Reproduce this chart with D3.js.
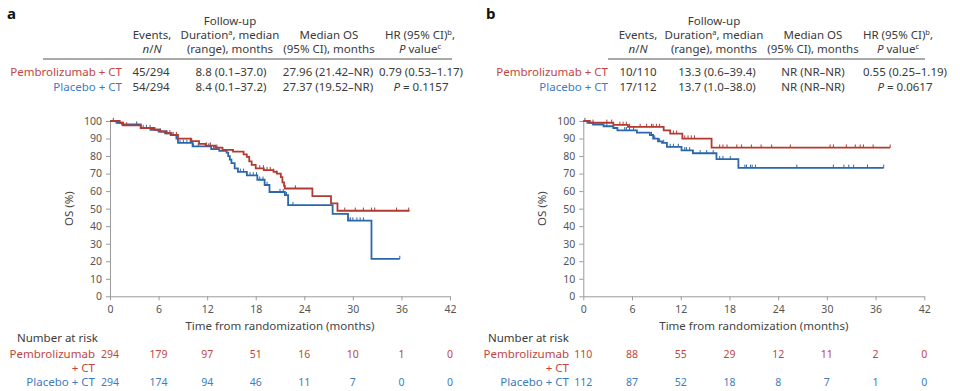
<!DOCTYPE html>
<html>
<head>
<meta charset="utf-8">
<script src="https://cdn.jsdelivr.net/npm/d3@7"></script>
<style>
  body { margin: 0; background: #fff; }
  svg text { font-family: "Noto Sans", sans-serif; }
</style>
</head>
<body>
<div id="chart"></div>
<script>
// ---- data ----
const monthTicks = [0, 6, 12, 18, 24, 30, 36, 42];
const osTicks = [0, 10, 20, 30, 40, 50, 60, 70, 80, 90, 100];

// panel a: [month, OS %] at each step
const aPembroSteps = [[0,100],[1.2,99],[1.6,97.5],[3.8,96],[5.5,95],[6.2,94],[7,93],[7.6,92],[8.4,90],[10,88.5],[11,87],[11.8,86],[13,84.8],[13.9,83.5],[15.2,82.5],[16.5,81],[16.9,79.5],[17.2,77],[17.5,75],[18,73],[19,72],[20.2,71],[20.6,70],[21.1,68],[21.3,65],[21.5,63],[21.6,61.5],[25.0,57.1],[27.3,53],[28.1,48.8]];
const aPembroEnd = 37.0;
const aPembroCensor = [1.65,2.06,4.1,4.95,7.4,8.2,10.1,11.9,12.4,13.2,18.5,18.95,19.4,19.8,20.2,20.6,22.9,29.0,30.3,31.3,32.3,32.7,35.4,36.9];
const aPlaceboSteps = [[0,100],[0.8,99],[1.5,98],[3.8,96],[5,95],[6,94],[6.8,93],[7.5,92],[8.2,90],[8.4,87.5],[10.2,85.5],[12.5,84],[13.5,83],[14.4,82],[14.6,80],[14.8,78],[15,76],[15.4,73],[15.8,71],[16.9,69],[18.2,66.5],[19.1,63.5],[19.7,59.5],[21.6,57.7],[22.0,52],[27.5,47],[29.4,43.2],[32.3,21.3]];
const aPlaceboEnd = 35.8;
const aPlaceboCensor = [0.41,3.3,4.5,6.2,7.0,7.8,8.65,9.06,9.5,9.9,10.3,10.9,12.2,12.8,13.2,16.1,16.5,16.9,17.3,17.7,18.1,18.5,18.9,19.4,21.0,21.4,21.8,22.6,29.5,29.7,30.0,30.5,30.9,31.3,35.8];
const aRiskPembro = [294, 179, 97, 51, 16, 10, 1, 0];
const aRiskPlacebo = [294, 174, 94, 46, 11, 7, 0, 0];

// panel b
const bPembroSteps = [[0,100],[0.8,99],[3.7,97.8],[5.5,96.6],[9.9,94.7],[10.7,92.8],[12.2,90],[15.8,84.8]];
const bPembroEnd = 37.8;
const bPembroCensor = [1.2,2.9,3.5,4.5,4.9,5.3,5.7,7.0,7.8,8.4,8.6,9.0,9.4,11.1,11.5,12.5,12.9,13.3,13.7,16.8,17.2,17.7,18.9,19.5,20.7,21.9,23.2,25.5,30.4,30.8,32.4,33.5,34.1,34.5,35.7,37.8];
const bPlaceboSteps = [[0,100],[0.5,99],[1.2,98],[2.5,97],[3.7,96],[4.2,94.7],[6.6,93.4],[8.2,92],[8.6,90],[9.2,88.4],[9.7,87.5],[10.3,85.2],[12.1,83.3],[13.5,81.6],[16.4,78.2],[19.1,73.3]];
const bPlaceboEnd = 37.0;
const bPlaceboCensor = [0.2,2.9,5.1,5.3,5.7,6.2,8.4,8.8,9.4,9.9,10.7,11.1,11.7,12.5,12.7,13.1,13.5,14.4,15.2,16.0,16.8,17.2,18.1,19.9,20.1,20.6,20.8,21.2,26.3,30.8,32.1,32.7,33.3,35.0,37.0];
const bRiskPembro = [110, 88, 55, 29, 12, 11, 2, 0];
const bRiskPlacebo = [112, 87, 52, 18, 8, 7, 1, 0];

// header table (segments: [text, style]; style i = italic, s = superscript)
const headerCols = [
  [[], [['Events,']], [['n','i'],['/'],['N','i']]],
  [[['Follow-up']], [['Duration'],['a','s'],[', median']], [['(range), months']]],
  [[], [['Median OS']], [['(95% CI), months']]],
  [[], [['HR (95% CI)'],['b','s'],[',']], [['P','i'],[' value'],['c','s']]]
];
const groupNames = ['Pembrolizumab + CT', 'Placebo + CT'];
const aRowPembro = ['45/294', '8.8 (0.1–37.0)', '27.96 (21.42–NR)', '0.79 (0.53–1.17)'];
const aRowPlacebo = ['54/294', '8.4 (0.1–37.2)', '27.37 (19.52–NR)', '= 0.1157'];
const bRowPembro = ['10/110', '13.3 (0.6–39.4)', 'NR (NR–NR)', '0.55 (0.25–1.19)'];
const bRowPlacebo = ['17/112', '13.7 (1.0–38.0)', 'NR (NR–NR)', '= 0.0617'];

// ---- drawing ----
const RED_LINE = '#b33a31', BLUE_LINE = '#2b67ab';
const RED_TEXT = '#c0463f', BLUE_TEXT = '#3c7cbf';
const FS = 11.5;

const svg = d3.select('#chart').append('svg')
  .attr('width', 960).attr('height', 391);

function addRich(text, segs) {
  let shifted = false;
  segs.forEach(s => {
    const t = text.append('tspan').text(s[0]);
    if (s[1] === 'i') t.attr('font-style', 'italic');
    if (s[1] === 's') {
      t.attr('font-size', 7.5).attr('dy', -4);
      shifted = true;
    } else if (shifted) {
      t.attr('dy', 4);
      shifted = false;
    }
  });
}

function stepAt(steps, t) {
  let v = steps[0][1];
  steps.forEach(d => { if (d[0] <= t) v = d[1]; });
  return v;
}

function drawPanel(p) {
  const g = svg.append('g');
  const x = d3.scaleLinear().domain([0, 42]).range(p.xRange);
  const y = d3.scaleLinear().domain([0, 100]).range([296.3, 121]);

  // panel letter
  g.append('text').attr('x', p.letterX).attr('y', 19)
    .attr('font-size', 15).attr('font-weight', 'bold').attr('fill', '#111')
    .text(p.letter);

  // header table
  headerCols.forEach((col, i) => {
    col.forEach((line, j) => {
      if (!line.length) return;
      const t = g.append('text')
        .attr('x', p.headX[i]).attr('y', 24.5 + j * 14)
        .attr('text-anchor', 'middle').attr('font-size', FS).attr('fill', '#3a3a3a');
      addRich(t, line);
    });
  });
  g.append('line')
    .attr('x1', p.rule[0]).attr('x2', p.rule[1])
    .attr('y1', 59).attr('y2', 59)
    .attr('stroke', '#555').attr('stroke-width', 1);

  const rows = [[p.rowPembro, RED_TEXT], [p.rowPlacebo, BLUE_TEXT]];
  rows.forEach((r, k) => {
    const yy = 75.5 + k * 15;
    g.append('text').attr('x', p.labelX).attr('y', yy)
      .attr('text-anchor', 'end').attr('font-size', FS).attr('fill', r[1])
      .text(groupNames[k]);
    r[0].forEach((v, i) => {
      const t = g.append('text').attr('x', p.rowX[i]).attr('y', yy)
        .attr('text-anchor', 'middle').attr('font-size', FS).attr('fill', '#3a3a3a');
      if (k === 1 && i === 3) addRich(t, [['P', 'i'], [' ' + v]]);
      else t.text(v);
    });
  });

  // axes
  const yAxis = g.append('g')
    .attr('transform', `translate(${p.xRange[0]},0)`)
    .call(d3.axisLeft(y).tickValues(osTicks).tickSize(4).tickSizeOuter(0).tickPadding(4));
  const xAxis = g.append('g')
    .attr('transform', `translate(0,${y(0)})`)
    .call(d3.axisBottom(x).tickValues(monthTicks).tickSize(4).tickSizeOuter(0).tickPadding(5));
  [yAxis, xAxis].forEach(a => {
    a.selectAll('path, line').attr('stroke', '#9a9a9a');
    a.selectAll('text').attr('fill', '#555').attr('font-size', 10.5)
      .style('font-family', '"Noto Sans", sans-serif');
  });

  g.append('text')
    .attr('transform', `translate(${p.yLabelX},${(y(0) + y(100)) / 2}) rotate(-90)`)
    .attr('text-anchor', 'middle').attr('font-size', FS).attr('fill', '#444')
    .text('OS (%)');
  g.append('text')
    .attr('x', (x(0) + x(42)) / 2).attr('y', 330)
    .attr('text-anchor', 'middle').attr('font-size', FS).attr('fill', '#444')
    .text('Time from randomization (months)');

  // KM curves
  const line = d3.line().x(d => x(d[0])).y(d => y(d[1])).curve(d3.curveStepAfter);
  const curves = [
    [p.placeboSteps, p.placeboEnd, p.placeboCensor, BLUE_LINE],
    [p.pembroSteps, p.pembroEnd, p.pembroCensor, RED_LINE]
  ];
  curves.forEach(c => {
    const pts = c[0].concat([[c[1], c[0][c[0].length - 1][1]]]);
    g.append('path').datum(pts)
      .attr('d', line).attr('fill', 'none')
      .attr('stroke', c[3]).attr('stroke-width', 1.8);
    g.selectAll(null).data(c[2]).join('line')
      .attr('x1', d => x(d)).attr('x2', d => x(d))
      .attr('y1', d => y(stepAt(c[0], d)) - 3.2)
      .attr('y2', d => y(stepAt(c[0], d)))
      .attr('stroke', c[3]).attr('stroke-width', 1);
  });

  // number at risk
  g.append('text').attr('x', p.riskTitleX).attr('y', 342)
    .attr('font-size', FS).attr('fill', '#3a3a3a').text('Number at risk');
  g.append('text').attr('x', p.riskLabelX).attr('y', 358)
    .attr('text-anchor', 'end').attr('font-size', FS).attr('fill', RED_TEXT).text('Pembrolizumab');
  g.append('text').attr('x', p.riskLabelX).attr('y', 372)
    .attr('text-anchor', 'end').attr('font-size', FS).attr('fill', RED_TEXT).text('+ CT');
  g.append('text').attr('x', p.riskLabelX).attr('y', 385.5)
    .attr('text-anchor', 'end').attr('font-size', FS).attr('fill', BLUE_TEXT).text('Placebo + CT');
  [[p.riskPembro, 358, RED_TEXT], [p.riskPlacebo, 385.5, BLUE_TEXT]].forEach(r => {
    g.selectAll(null).data(r[0]).join('text')
      .attr('x', (d, i) => x(monthTicks[i])).attr('y', r[1])
      .attr('text-anchor', 'middle').attr('font-size', 10.5).attr('fill', r[2])
      .text(d => d);
  });
}

drawPanel({
  letter: 'a', letterX: 7,
  xRange: [110, 450], yLabelX: 73,
  headX: [152, 230, 329, 420], rowX: [151, 231, 328, 421],
  rule: [43, 452], labelX: 122,
  rowPembro: aRowPembro, rowPlacebo: aRowPlacebo,
  pembroSteps: aPembroSteps, pembroEnd: aPembroEnd, pembroCensor: aPembroCensor,
  placeboSteps: aPlaceboSteps, placeboEnd: aPlaceboEnd, placeboCensor: aPlaceboCensor,
  riskTitleX: 17, riskLabelX: 95,
  riskPembro: aRiskPembro, riskPlacebo: aRiskPlacebo
});

drawPanel({
  letter: 'b', letterX: 486,
  xRange: [583.3, 924.3], yLabelX: 546,
  headX: [638, 714, 813, 898], rowX: [638, 717, 813, 905],
  rule: [608, 925], labelX: 608,
  rowPembro: bRowPembro, rowPlacebo: bRowPlacebo,
  pembroSteps: bPembroSteps, pembroEnd: bPembroEnd, pembroCensor: bPembroCensor,
  placeboSteps: bPlaceboSteps, placeboEnd: bPlaceboEnd, placeboCensor: bPlaceboCensor,
  riskTitleX: 488, riskLabelX: 569,
  riskPembro: bRiskPembro, riskPlacebo: bRiskPlacebo
});
</script>
</body>
</html>
